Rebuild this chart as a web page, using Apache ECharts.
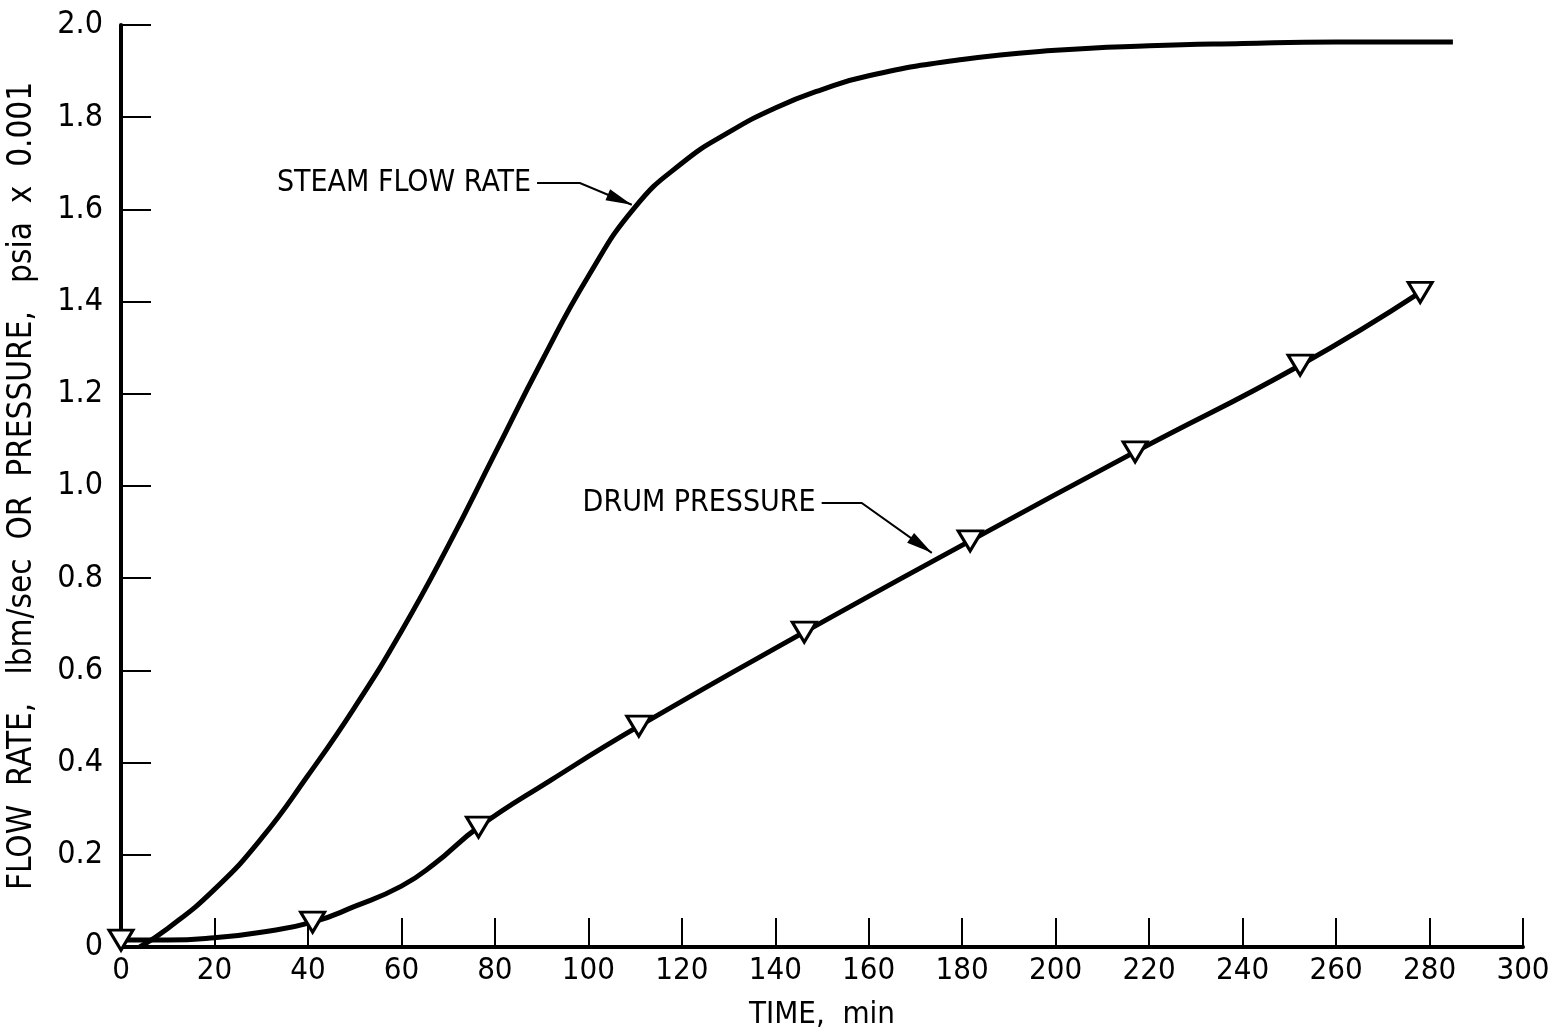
<!doctype html>
<html>
<head>
<meta charset="utf-8">
<title>steam flow rate / drum pressure</title>
<script src="https://cdn.jsdelivr.net/npm/echarts@6/dist/echarts.min.js"></script>
<style> html, body, #main {width: 100%; height: 100%; margin: 0; background: #fff;} </style>
</head>
<body>
<div id="main"></div>
<script>
// time, min  /  flow rate lbm/sec or pressure psia x 0.001
var steamFlow = [
    [4, 0], [10, 0.04], [20, 0.125], [30, 0.235], [40, 0.372], [50, 0.52],
    [60, 0.685], [70, 0.87], [80, 1.07], [90, 1.27], [100, 1.455], [110, 1.605],
    [120, 1.70], [130, 1.767], [140, 1.82], [150, 1.86], [160, 1.89],
    [180, 1.925], [200, 1.945], [220, 1.955], [240, 1.96], [260, 1.963], [285, 1.963]
];
var drumPressure = [
    [0, 0.015], [10, 0.015], [20, 0.02], [30, 0.032], [41, 0.054], [50, 0.088],
    [60, 0.132], [67, 0.18], [76.5, 0.26], [92, 0.362], [110.8, 0.479],
    [146.2, 0.683], [181.7, 0.881], [217, 1.074], [252.3, 1.262], [278, 1.42]
];
var drumMarkers = [
    [0, 0.015], [41, 0.054], [76.5, 0.26], [110.8, 0.479], [146.2, 0.683],
    [181.7, 0.881], [217, 1.074], [252.3, 1.262], [278, 1.42]
];
// label: text end, elbow, arrow tip
var notes = [
    {text: 'STEAM FLOW RATE', end: [88.6, 1.657], elbow: [98.2, 1.657], tip: [109.3, 1.61]},
    {text: 'DRUM PRESSURE', end: [149.5, 0.963], elbow: [158.5, 0.963], tip: [173.5, 0.855]}
];

var font = '"DejaVu Sans Condensed", "Liberation Sans Narrow", "Roboto", sans-serif';
var c = echarts.init(document.getElementById('main'));
var option = {
    backgroundColor: '#fff',
    animation: false,
    grid: {left: 121, right: 38, top: 25, bottom: 88, containLabel: false, outerBoundsMode: 'none'},
    xAxis: {
        type: 'value', min: 0, max: 300, interval: 20,
        name: 'TIME,  min', nameLocation: 'middle', nameGap: 52,
        nameTextStyle: {fontFamily: font, fontSize: 31, color: '#000'},
        axisLine: {lineStyle: {color: '#000', width: 4}},
        axisTick: {inside: true, length: 29, lineStyle: {color: '#000', width: 2}},
        axisLabel: {fontFamily: font, fontSize: 31, color: '#000', margin: 8},
        splitLine: {show: false}
    },
    yAxis: {
        type: 'value', min: 0, max: 2, interval: 0.2,
        name: 'FLOW  RATE,   lbm/sec  OR  PRESSURE,   psia  x  0.001', nameLocation: 'middle', nameGap: 82,
        nameTextStyle: {fontFamily: font, fontSize: 33, color: '#000'},
        axisLine: {lineStyle: {color: '#000', width: 4}},
        axisTick: {inside: true, length: 30, lineStyle: {color: '#000', width: 2}},
        axisLabel: {
            fontFamily: font, fontSize: 32, color: '#000', margin: 18,
            formatter: function (v) { return v === 0 ? '0' : v.toFixed(1); }
        },
        splitLine: {show: false}
    },
    series: [
        {
            name: 'steam', type: 'line', data: steamFlow, smooth: 0.5, showSymbol: false,
            lineStyle: {color: '#000', width: 5}
        },
        {
            name: 'drum', type: 'line', data: drumPressure, smooth: 0.5, showSymbol: false,
            lineStyle: {color: '#000', width: 5}
        },
        {
            name: 'drumMarks', type: 'scatter', data: drumMarkers, z: 5,
            symbol: 'triangle', symbolRotate: 180, symbolSize: [24, 20],
            itemStyle: {color: '#fff', borderColor: '#000', borderWidth: 3, opacity: 1}
        }
    ]
};
c.setOption(option);

// annotation labels and leader arrows, placed in data coordinates
var g = [];
notes.forEach(function (n) {
    var e = c.convertToPixel({gridIndex: 0}, n.end);
    var b = c.convertToPixel({gridIndex: 0}, n.elbow);
    var t = c.convertToPixel({gridIndex: 0}, n.tip);
    g.push({
        type: 'text', x: e[0] - 4, y: e[1],
        style: {text: n.text, fontFamily: font, fontSize: 30, fill: '#000', align: 'right', verticalAlign: 'middle'}
    });
    g.push({
        type: 'polyline', shape: {points: [[e[0] + 2, e[1]], b, t]},
        style: {stroke: '#000', lineWidth: 2, fill: null}
    });
    var ang = Math.atan2(t[1] - b[1], t[0] - b[0]);
    var L = 26, W = 6;
    var bx = t[0] - L * Math.cos(ang), by = t[1] - L * Math.sin(ang);
    g.push({
        type: 'polygon',
        shape: {points: [t, [bx - W * Math.sin(ang), by + W * Math.cos(ang)], [bx + W * Math.sin(ang), by - W * Math.cos(ang)]]},
        style: {fill: '#000'}
    });
});
c.setOption({graphic: g});
</script>
</body>
</html>
